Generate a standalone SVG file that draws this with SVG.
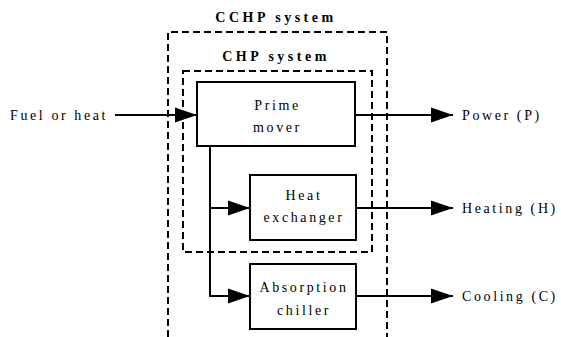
<svg xmlns="http://www.w3.org/2000/svg" width="561" height="337" viewBox="0 0 561 337" font-family="'Liberation Serif', 'Times New Roman', Times, 'DejaVu Serif', serif">
<style>
text{font-family:'Liberation Serif','Times New Roman',Times,'DejaVu Serif',serif;font-size:14px;letter-spacing:2.6px;fill:#000}
.b{font-weight:bold;letter-spacing:3.5px}
.box{fill:#fff;stroke:#000;stroke-width:2}
.dash{fill:none;stroke:#000;stroke-width:2;stroke-dasharray:7 4}
.ln{fill:none;stroke:#000;stroke-width:2}
.m{text-anchor:middle}
</style>
<defs>
<marker id="ah" markerUnits="userSpaceOnUse" markerWidth="22" markerHeight="16" refX="22" refY="8" orient="auto">
<path d="M0,0.5 L22,8 L0,15.5 Z" fill="#000"/>
</marker>
</defs>
<g id="cchp-system">
<path class="dash" d="M168,337 V32 H387 V337"/>
<text class="b m" x="276" y="22">CCHP system</text>
</g>
<g id="chp-system">
<rect class="dash" x="183" y="71" width="189" height="181"/>
<text class="b m" x="276" y="61">CHP system</text>
</g>
<g id="connectors">
<line class="ln" x1="115" y1="115" x2="197" y2="115" marker-end="url(#ah)"/>
<line class="ln" x1="355" y1="115" x2="453" y2="115" marker-end="url(#ah)"/>
<polyline class="ln" points="210,146 210,296 250,296" marker-end="url(#ah)"/>
<line class="ln" x1="210" y1="208" x2="250" y2="208" marker-end="url(#ah)"/>
<line class="ln" x1="356" y1="208" x2="453" y2="208" marker-end="url(#ah)"/>
<line class="ln" x1="356" y1="296" x2="453" y2="296" marker-end="url(#ah)"/>
</g>
<g id="prime-mover">
<rect class="box" x="197" y="82" width="158" height="64"/>
<text class="m" x="277.5" y="110">Prime</text>
<text class="m" x="277.5" y="132">mover</text>
</g>
<g id="heat-exchanger">
<rect class="box" x="250" y="175" width="106" height="65"/>
<text class="m" x="304" y="200">Heat</text>
<text class="m" x="304" y="222">exchanger</text>
</g>
<g id="absorption-chiller">
<rect class="box" x="250" y="264" width="106" height="65"/>
<text class="m" x="304" y="292">Absorption</text>
<text class="m" x="304" y="315">chiller</text>
</g>
<g id="fuel">
<text x="10" y="120">Fuel or heat</text>
</g>
<g id="power">
<text x="462" y="120">Power (P)</text>
</g>
<g id="heating">
<text x="462" y="213">Heating (H)</text>
</g>
<g id="cooling">
<text x="462" y="301">Cooling (C)</text>
</g>
</svg>
